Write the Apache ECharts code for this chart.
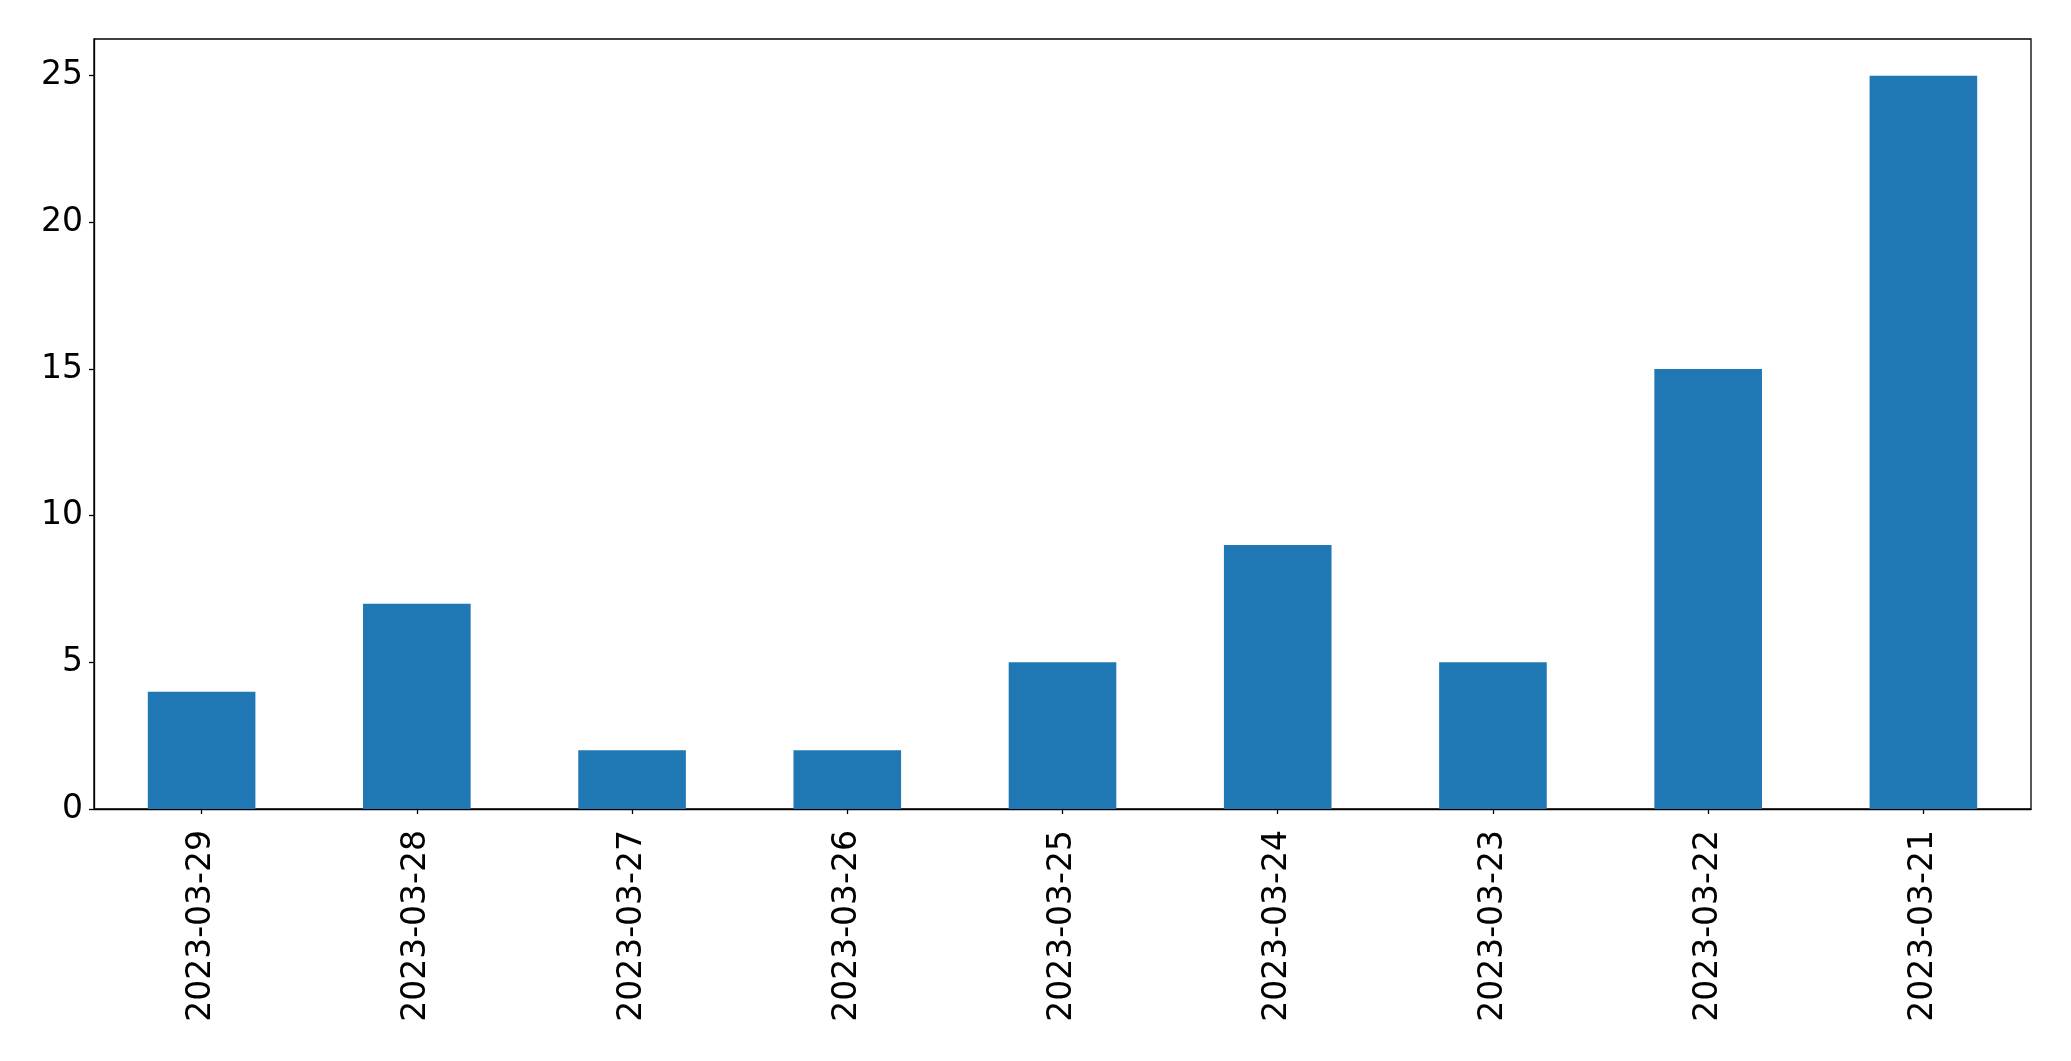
<!DOCTYPE html>
<html>
<head>
<meta charset="utf-8">
<script src="https://cdn.jsdelivr.net/npm/echarts@6/dist/echarts.min.js"></script>
<style>
html,body{margin:0;padding:0;background:#fff;}
#chart{width:2071px;height:1061px;}
</style>
</head>
<body>
<div id="chart"></div>
<script>
const categories = ['2023-03-29','2023-03-28','2023-03-27','2023-03-26','2023-03-25','2023-03-24','2023-03-23','2023-03-22','2023-03-21'];
const values = [4, 7, 2, 2, 5, 9, 5, 15, 25];
const yTicks = [0, 5, 10, 15, 20, 25];

const chart = echarts.init(document.getElementById('chart'), null, {renderer: 'canvas'});
const font = 'DejaVu Sans';
chart.setOption({
  animation: false,
  backgroundColor: '#ffffff',
  grid: {
    left: 94, right: 40, top: 39, bottom: 252,
    show: true, borderColor: '#000000', borderWidth: 1.3, backgroundColor: 'transparent'
  },
  xAxis: {
    type: 'category',
    data: categories,
    axisLine: {show: true, lineStyle: {color: '#000', width: 1.3}},
    axisTick: {show: true, alignWithLabel: true, length: 5, lineStyle: {color: '#000', width: 1.3}},
    axisLabel: {rotate: 90, margin: 21, color: '#000', fontFamily: font, fontSize: 33, interval: 0},
    splitLine: {show: false}
  },
  yAxis: {
    type: 'value',
    min: 0, max: 26.25,
    axisLine: {show: true, lineStyle: {color: '#000', width: 1.3}},
    axisTick: {show: true, length: 5, customValues: yTicks, lineStyle: {color: '#000', width: 1.3}},
    axisLabel: {margin: 11, color: '#000', fontFamily: font, fontSize: 33, customValues: yTicks},
    splitLine: {show: false}
  },
  series: [{
    type: 'bar',
    data: values,
    barWidth: '50%',
    itemStyle: {color: '#1f77b4'}
  }]
});
</script>
</body>
</html>
